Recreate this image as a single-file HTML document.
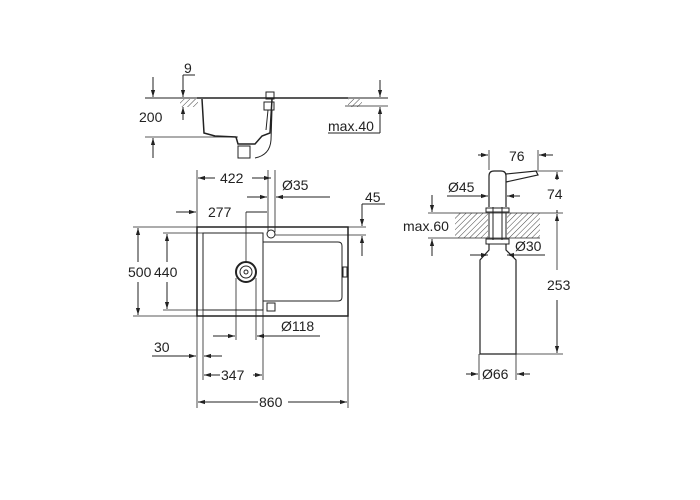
<!DOCTYPE html>
<html><head><style>body{margin:0;background:#fff}svg{display:block}text{font-family:"Liberation Sans",sans-serif;font-size:14px;fill:#222}</style></head><body>
<svg width="700" height="500" viewBox="0 0 700 500" xmlns="http://www.w3.org/2000/svg">
<defs>
<marker id="a" viewBox="0 0 10 10" refX="10" refY="5" markerWidth="7" markerHeight="7" orient="auto-start-reverse"><path d="M0,2 L10,5 L0,8 z" fill="#222"/></marker>
<pattern id="h" width="4" height="4" patternUnits="userSpaceOnUse" patternTransform="rotate(45)"><line x1="0" y1="0" x2="0" y2="4" stroke="#444" stroke-width="1"/></pattern>
</defs>
<g stroke="#222" stroke-width="1" fill="none">
<rect x="180" y="99" width="18" height="8" fill="url(#h)" stroke="none"/>
<rect x="348" y="99" width="14" height="8" fill="url(#h)" stroke="none"/>
<line x1="145" y1="98" x2="388" y2="98"/>
<path d="M197,98 L348,98 M202,99 L204,133 L215,136 L236,137 L238,144 L255,144 L262,136 L270,133 L272,99" stroke-width="1.5"/>
<rect x="266" y="92" width="8" height="7"/>
<rect x="264" y="102" width="10" height="8"/>
<path d="M268,110 L266,130 M272,110 L271,140 Q270,155 255,158"/>
<rect x="238" y="146" width="12" height="12"/>
<line x1="145" y1="137" x2="238" y2="137" stroke-width="0.8"/>
<line x1="183" y1="75" x2="195" y2="75"/>
<line x1="183" y1="75" x2="183" y2="97" marker-end="url(#a)"/>
<line x1="183" y1="120" x2="183" y2="107" marker-end="url(#a)"/>
<line x1="153" y1="77" x2="153" y2="97" marker-end="url(#a)"/>
<line x1="153" y1="158" x2="153" y2="138" marker-end="url(#a)"/>
<line x1="345" y1="106" x2="388" y2="106" stroke-width="0.8"/>
<line x1="380" y1="80" x2="380" y2="97" marker-end="url(#a)"/>
<line x1="380" y1="133" x2="380" y2="107" marker-end="url(#a)"/>
<line x1="328" y1="133" x2="380" y2="133"/>
<rect x="197" y="227" width="151" height="89" stroke-width="1.5"/>
<path d="M203,233 L263,233 L263,310 L203,310 Z"/>
<path d="M263,242 L338,242 Q342,242 342,246 L342,297 Q342,301 338,301 L263,301"/>
<circle cx="246" cy="272" r="10" stroke-width="2"/>
<circle cx="246" cy="272" r="6"/>
<circle cx="246" cy="272" r="2"/>
<circle cx="271" cy="234" r="4"/>
<rect x="267" y="303" width="8" height="8"/>
<rect x="343" y="267" width="4" height="10"/>
<line x1="268" y1="170" x2="268" y2="232" stroke-width="0.8"/>
<line x1="275" y1="170" x2="275" y2="232" stroke-width="0.8"/>
<line x1="197" y1="170" x2="197" y2="408" stroke-width="0.8"/>
<line x1="348" y1="316" x2="348" y2="408" stroke-width="0.8"/>
<line x1="215" y1="178" x2="198" y2="178" marker-end="url(#a)"/>
<line x1="252" y1="178" x2="271" y2="178" marker-end="url(#a)"/>
<line x1="247" y1="197" x2="267" y2="197" marker-end="url(#a)"/>
<line x1="330" y1="197" x2="276" y2="197" marker-end="url(#a)"/>
<line x1="176" y1="212" x2="196" y2="212" marker-end="url(#a)"/>
<line x1="246" y1="212" x2="267" y2="212"/>
<line x1="246" y1="212" x2="246" y2="262" stroke-width="0.8"/>
<line x1="362" y1="204" x2="385" y2="204"/>
<line x1="362" y1="204" x2="362" y2="226" marker-end="url(#a)"/>
<line x1="362" y1="256" x2="362" y2="236" marker-end="url(#a)"/>
<line x1="348" y1="227" x2="366" y2="227" stroke-width="0.8"/>
<line x1="275" y1="235" x2="366" y2="235" stroke-width="0.8"/>
<line x1="133" y1="227" x2="197" y2="227" stroke-width="0.8"/>
<line x1="133" y1="316" x2="197" y2="316" stroke-width="0.8"/>
<line x1="163" y1="233" x2="203" y2="233" stroke-width="0.8"/>
<line x1="163" y1="310" x2="203" y2="310" stroke-width="0.8"/>
<line x1="138" y1="262" x2="138" y2="228" marker-end="url(#a)"/>
<line x1="138" y1="282" x2="138" y2="315" marker-end="url(#a)"/>
<line x1="167" y1="262" x2="167" y2="234" marker-end="url(#a)"/>
<line x1="167" y1="282" x2="167" y2="309" marker-end="url(#a)"/>
<line x1="236" y1="278" x2="236" y2="340" stroke-width="0.8"/>
<line x1="256" y1="278" x2="256" y2="340" stroke-width="0.8"/>
<line x1="213" y1="336" x2="235" y2="336" marker-end="url(#a)"/>
<line x1="320" y1="336" x2="257" y2="336" marker-end="url(#a)"/>
<line x1="203" y1="310" x2="203" y2="380" stroke-width="0.8"/>
<line x1="263" y1="301" x2="263" y2="380" stroke-width="0.8"/>
<line x1="152" y1="356" x2="196" y2="356" marker-end="url(#a)"/>
<line x1="222" y1="356" x2="204" y2="356" marker-end="url(#a)"/>
<line x1="220" y1="375" x2="204" y2="375" marker-end="url(#a)"/>
<line x1="253" y1="375" x2="262" y2="375" marker-end="url(#a)"/>
<line x1="258" y1="402" x2="198" y2="402" marker-end="url(#a)"/>
<line x1="288" y1="402" x2="347" y2="402" marker-end="url(#a)"/>
<rect x="455" y="213" width="33" height="25" fill="url(#h)" stroke="none"/>
<rect x="507" y="213" width="33" height="25" fill="url(#h)" stroke="none"/>
<line x1="428" y1="213" x2="563" y2="213" stroke-width="0.8"/>
<line x1="428" y1="238" x2="540" y2="238" stroke-width="0.8"/>
<path d="M489,207 L489,176 Q489,171 494,171 L501,171 Q506,171 506,176 L506,207" stroke-width="1.2"/>
<path d="M506,174 L536,171 L538,175 L506,182" stroke-width="1.2"/>
<rect x="486" y="208" width="23" height="4"/>
<line x1="493" y1="207" x2="493" y2="240"/><line x1="502" y1="207" x2="502" y2="240"/>
<line x1="489" y1="213" x2="489" y2="238"/><line x1="506" y1="213" x2="506" y2="238"/>
<rect x="486" y="239" width="23" height="5"/>
<path d="M489,244 L489,250 L480,260 L480,354 L516,354 L516,260 L506,250 L506,244" stroke-width="1.2"/>
<line x1="489" y1="150" x2="489" y2="170" stroke-width="0.8"/>
<line x1="538" y1="150" x2="538" y2="170" stroke-width="0.8"/>
<line x1="478" y1="155" x2="488" y2="155" marker-end="url(#a)"/>
<line x1="553" y1="155" x2="539" y2="155" marker-end="url(#a)"/>
<line x1="536" y1="171" x2="563" y2="171" stroke-width="0.8"/>
<line x1="557" y1="180" x2="557" y2="172" marker-end="url(#a)"/>
<line x1="557" y1="210" x2="557" y2="213"/>
<line x1="557" y1="218" x2="557" y2="214" marker-end="url(#a)"/>
<line x1="557" y1="218" x2="557" y2="270" stroke-width="0.8"/>
<line x1="557" y1="300" x2="557" y2="353" marker-end="url(#a)"/>
<line x1="516" y1="354" x2="563" y2="354" stroke-width="0.8"/>
<line x1="447" y1="196" x2="488" y2="196" marker-end="url(#a)"/>
<line x1="520" y1="196" x2="507" y2="196" marker-end="url(#a)"/>
<line x1="432" y1="195" x2="432" y2="212" marker-end="url(#a)"/>
<line x1="432" y1="256" x2="432" y2="239" marker-end="url(#a)"/>
<line x1="470" y1="255" x2="488" y2="255" marker-end="url(#a)"/>
<line x1="545" y1="255" x2="507" y2="255" marker-end="url(#a)"/>
<line x1="479" y1="354" x2="479" y2="380" stroke-width="0.8"/>
<line x1="516" y1="354" x2="516" y2="380" stroke-width="0.8"/>
<line x1="466" y1="374" x2="478" y2="374" marker-end="url(#a)"/>
<line x1="530" y1="374" x2="517" y2="374" marker-end="url(#a)"/>
</g>
<text x="184" y="73">9</text>
<text x="139" y="122">200</text>
<text x="328" y="131">max.40</text>
<text x="220" y="183">422</text>
<text x="282" y="190">Ø35</text>
<text x="365" y="202">45</text>
<text x="208" y="217">277</text>
<text x="128" y="277">500</text>
<text x="154" y="277">440</text>
<text x="281" y="331">Ø118</text>
<text x="154" y="352">30</text>
<text x="221" y="380">347</text>
<text x="259" y="407">860</text>
<text x="509" y="161">76</text>
<text x="547" y="199">74</text>
<text x="547" y="290">253</text>
<text x="448" y="192">Ø45</text>
<text x="403" y="231">max.60</text>
<text x="515" y="251">Ø30</text>
<text x="482" y="379">Ø66</text>
</svg>
</body></html>
